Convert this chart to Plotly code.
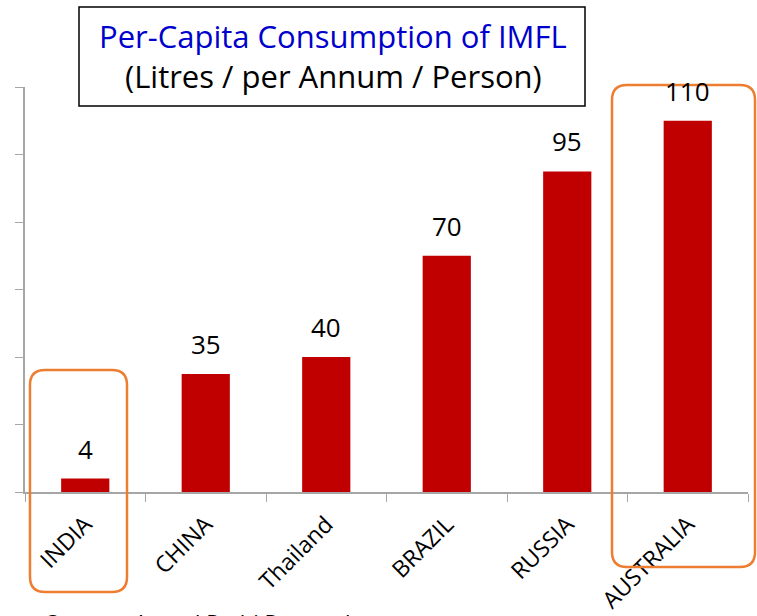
import plotly.graph_objects as go

# Data
countries = ["INDIA", "CHINA", "Thailand", "BRAZIL", "RUSSIA", "AUSTRALIA"]
litres = [4, 35, 40, 70, 95, 110]
y_ticks = [0, 20, 40, 60, 80, 100, 120]

title_line1 = "Per-Capita Consumption of IMFL"
title_line2 = "(Litres / per Annum / Person)"
source_note = "Source : Anand Rathi Research"

# Plot area in pixels (757 x 616 page)
L, R, T, B = 25, 748, 87, 492
W, H = 757, 616
FONT = "Open Sans"


def px(xp):
    return (xp - L) / (R - L)


def py(yp):
    return (B - yp) / (B - T)


def rounded_rect(x0, y0, x1, y1, r):
    """Rounded rectangle path given in pixel coords, returned in paper coords"""
    pts = [
        ("M", [(x0 + r, y0)]),
        ("L", [(x1 - r, y0)]),
        ("Q", [(x1, y0), (x1, y0 + r)]),
        ("L", [(x1, y1 - r)]),
        ("Q", [(x1, y1), (x1 - r, y1)]),
        ("L", [(x0 + r, y1)]),
        ("Q", [(x0, y1), (x0, y1 - r)]),
        ("L", [(x0, y0 + r)]),
        ("Q", [(x0, y0), (x0 + r, y0)]),
    ]
    path = ""
    for cmd, coords in pts:
        path += cmd + " " + " ".join(f"{px(a):.4f},{py(b):.4f}" for a, b in coords) + " "
    return path + "Z"


fig = go.Figure()

fig.add_trace(go.Bar(
    x=countries,
    y=litres,
    marker_color="#C00000",
    marker_line_width=0,
    width=0.4,
    hoverinfo="skip",
))

# Value labels above the bars
for c, v in zip(countries, litres):
    fig.add_annotation(
        x=c, y=v, text=str(v), showarrow=False,
        yanchor="middle", yshift=30,
        font=dict(family=FONT, size=26, color="black"),
    )

# Title box
fig.add_shape(
    type="rect", xref="paper", yref="paper",
    x0=px(79), x1=px(585), y0=py(106), y1=py(7),
    line=dict(color="black", width=1.5), fillcolor="white", layer="above",
)
fig.add_annotation(
    xref="paper", yref="paper", x=px(333), y=py(36),
    text=title_line1, showarrow=False, yanchor="middle",
    font=dict(family=FONT, size=31, color="#0000CC"),
)
fig.add_annotation(
    xref="paper", yref="paper", x=px(333), y=py(76),
    text=title_line2, showarrow=False, yanchor="middle",
    font=dict(family=FONT, size=31, color="black"),
)

# Highlight boxes
orange = "#ED7D31"
fig.add_shape(type="path", xref="paper", yref="paper",
              path=rounded_rect(30, 370, 127, 592, 15),
              line=dict(color=orange, width=2.5), layer="above")
fig.add_shape(type="path", xref="paper", yref="paper",
              path=rounded_rect(612, 85, 755, 567, 15),
              line=dict(color=orange, width=2.5), layer="above")

# Source note (cut at bottom edge, as in the original)
fig.add_annotation(
    xref="paper", yref="paper", x=px(44), y=py(605),
    xanchor="left", yanchor="top", text=source_note, showarrow=False,
    font=dict(family=FONT, size=22, color="black"),
)

fig.update_layout(
    width=W, height=H,
    margin=dict(l=L, r=W - R, t=T, b=H - B, pad=0, autoexpand=False),
    paper_bgcolor="white", plot_bgcolor="white",
    showlegend=False,
    font=dict(family=FONT, color="black"),
)
fig.update_xaxes(
    showline=True, linecolor="#A6A6A6", linewidth=1.5,
    ticks="outside", tickson="boundaries", ticklen=8, tickcolor="#A6A6A6",
    tickangle=-45, tickfont=dict(family=FONT, size=23, color="black"),
    ticklabelstandoff=8, automargin=False,
    showgrid=False, fixedrange=True,
)
fig.update_yaxes(
    range=[0, 120], tickvals=y_ticks, showticklabels=False,
    showline=True, linecolor="#A6A6A6", linewidth=1.5,
    ticks="outside", ticklen=8, tickcolor="#A6A6A6", automargin=False,
    showgrid=False, zeroline=False, fixedrange=True,
)

fig.write_html(
    "out.html",
    config={"displayModeBar": False},
    post_script="document.body.style.margin='0';document.body.style.overflow='hidden';",
)
